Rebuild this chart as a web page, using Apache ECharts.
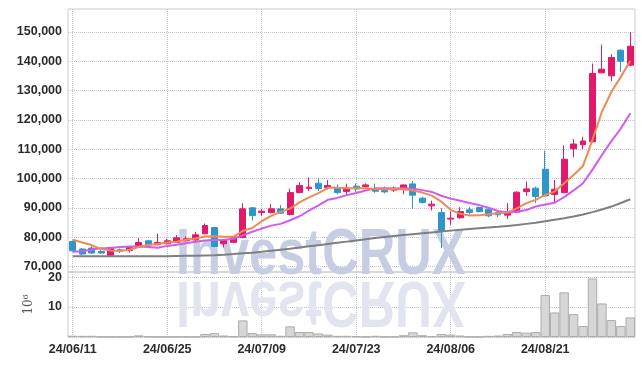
<!DOCTYPE html>
<html>
<head>
<meta charset="utf-8">
<script src="https://cdn.jsdelivr.net/npm/echarts@6/dist/echarts.min.js"></script>
<style>html,body{margin:0;padding:0;background:#fff}#c{width:642px;height:366px}</style>
</head>
<body>
<div id="c"></div>
<script>
var dates = ['24/06/11','24/06/12','24/06/13','24/06/14','24/06/17','24/06/18','24/06/19','24/06/20','24/06/21','24/06/24',
'24/06/25','24/06/26','24/06/27','24/06/28','24/07/01','24/07/02','24/07/03','24/07/04','24/07/05','24/07/08',
'24/07/09','24/07/10','24/07/11','24/07/12','24/07/15','24/07/16','24/07/17','24/07/18','24/07/19','24/07/22',
'24/07/23','24/07/24','24/07/25','24/07/26','24/07/29','24/07/30','24/07/31','24/08/01','24/08/02','24/08/05',
'24/08/06','24/08/07','24/08/08','24/08/09','24/08/12','24/08/13','24/08/14','24/08/16','24/08/19','24/08/20',
'24/08/21','24/08/22','24/08/23','24/08/26','24/08/27','24/08/28','24/08/29','24/08/30','24/09/02','24/09/03'];

var openP  = [78600,76020,76360,75200,73840,75780,75540,76700,78840,77480, 77820,78260,78840,79180,81220,83360,77820,78300,79960,90060,
              88460,88460,89720,87780,95260,96620,98460,96960,96960,95600, 97440,97300,96620,95940,96080,96420,98220,93360,90740,88460,
              86220,86660,89380,90160,89620,88460,87580,88600,95600,96760, 103220,94580,95260,110220,111580,112600,136080,135040,143780,138680];
var closeP = [75440,74320,74660,74660,76560,75340,76560,78260,77480,78260, 78840,79860,79520,80880,84040,76900,79180,80200,89720,87440,
              88940,89720,88260,95260,97640,97100,96620,97640,95260,96760, 96520,97880,95740,95500,96760,97880,94380,91860,91320,82340,
              86560,88800,88460,88800,87340,87680,88600,95400,96520,93900, 94140,96420,106620,111820,112840,135860,137320,141300,140040,145140];
var lowP   = [75200,73840,74400,74420,73800,74660,74860,76500,77300,77300, 77600,78100,78600,78400,81000,76700,76560,78100,79700,85740,
              87340,88200,88000,87500,95000,95800,95800,96300,94700,94140, 95500,97000,95200,95000,95500,94720,89620,91600,89200,76360,
              84280,86400,87680,88500,86900,86900,86220,88400,94200,91660, 93900,91860,95000,107300,110020,112300,135900,133240,136400,138400];
var highP  = [78900,76360,77720,76000,76700,76220,76900,79760,79000,81220, 79520,80780,80300,81900,84720,83600,79400,80400,91660,90400,
              89720,91320,91000,96620,98800,100500,100160,99580,98000,98320, 98400,98400,98300,97300,97300,98000,99140,93900,92500,89960,
              88800,90300,90300,90500,90300,89400,91660,95700,99000,97300, 109540,99580,111380,113520,114300,139260,145720,142420,144100,150000];

var ma5  = [79180,78260,77380,76020,75540,75340,75780,76700,77380,77720, 78260,78500,79180,79620,80300,80400,80200,80200,82240,83200,
            85500,87300,88700,89800,91900,93650,95100,96880,96880,96760, 96760,96760,96500,96420,96420,96420,95940,95260,94240,92200,
            89380,88020,87440,87500,87900,88200,88500,89900,91660,92780, 94480,95600,98460,101280,104340,113300,122800,129600,134700,140200];
var ma10 = [75100,75300,75900,76300,76400,76700,76900,76900,76700,76500, 77100,77500,78000,78500,78900,79100,79200,79500,80700,81900,
            83000,84000,84600,85850,87200,89100,90900,92800,93450,94400, 95150,96000,96700,96700,96650,96700,96550,96100,95500,94200,
            93200,92500,91700,91000,90100,89000,88450,88700,89350,90500, 91200,91800,93700,96000,98450,103100,108080,112800,117100,122300];
var ma60 = [73600,73600,73600,73600,73600,73600,73600,73600,73600,73600, 73600,73650,73700,73750,73850,73950,74100,74300,74550,74800,
            75100,75450,75800,76150,76550,76950,77350,77750,78150,78550, 78950,79350,79750,80100,80450,80800,81100,81400,81700,82000,
            82300,82600,82850,83100,83350,83600,83900,84200,84600,85000, 85500,86000,86500,87100,87800,88600,89500,90500,91700,93000];

var volume = [0.43,0.4,0.4,0.1,0.1,0.1,0.1,0.55,0.2,0.1, 0.1,0.1,0.1,0.1,1.0,1.3,0.5,0.2,5.55,1.3,
              0.9,0.9,0.4,3.55,1.65,1.65,1.2,0.8,0.4,0.4, 0.3,0.1,0.4,0.1,0.1,0.6,1.55,0.6,0.3,1.0,
              0.8,0.5,0.1,0.1,0.4,0.5,1.0,1.65,1.45,1.65, 14.0,8.2,14.9,7.65,3.65,19.55,11.2,5.65,3.65,6.55];

var priceTicks = [70000,80000,90000,100000,110000,120000,130000,140000,150000];
var volTicks = [0,10,20];
var volLabels = [10,20];

var ohlc = dates.map(function(d,i){ return [openP[i], closeP[i], lowP[i], highP[i]]; });

var FONT = '"Liberation Sans", Arial, sans-serif';
var UP = '#e2196b', DOWN = '#2f96cb';
var gridLine = {show:true, lineStyle:{color:'#bfc3dc', type:'dotted', width:1}};
var labelStyle = {fontFamily:FONT, fontSize:12.5, fontWeight:'bold', color:'#2b2b2b'};

var chart = echarts.init(document.getElementById('c'), null, {renderer:'canvas'});
chart.setOption({
  animation:false,
  backgroundColor:'#ffffff',
  grid:[
    {left:68, right:7, top:9, height:263, show:true, borderColor:'#cccccc', borderWidth:1},
    {left:68, right:7, top:272, height:65, show:true, borderColor:'#cccccc', borderWidth:1}
  ],
  graphic:[
    {type:'text', x:176, y:256, scaleX:0.79, z:1, silent:true,
     style:{text:'InvestCRUX', font:'bold 64px ' + FONT, fill:'#c7cee3', verticalAlign:'middle', align:'left'}},
    {type:'text', x:176, y:300, scaleX:0.79, scaleY:-1, z:1, silent:true,
     style:{text:'InvestCRUX', font:'bold 64px ' + FONT, fill:'#e2e5ef', verticalAlign:'middle', align:'left'}}
  ],
  xAxis:[
    {type:'category', gridIndex:0, data:dates, boundaryGap:true,
     axisLine:{show:false}, axisTick:{show:false}, axisLabel:{show:false},
     splitLine:{show:true, interval:9, alignWithLabel:true, lineStyle:{color:'#bfc3dc', type:'dotted'}}},
    {type:'category', gridIndex:1, data:dates, boundaryGap:true,
     axisLine:{show:false}, axisTick:{show:false},
     axisLabel:Object.assign({interval:9, margin:6}, labelStyle),
     splitLine:{show:true, interval:9, alignWithLabel:true, lineStyle:{color:'#bfc3dc', type:'dotted'}}}
  ],
  yAxis:[
    {type:'value', gridIndex:0, min:68200, max:157830,
     axisLine:{show:false}, axisTick:{show:false, customValues:priceTicks},
     axisLabel:Object.assign({customValues:priceTicks, margin:6,
       formatter:function(v){ return String(v).replace(/\B(?=(\d{3})+(?!\d))/g, ','); }}, labelStyle),
     splitLine:gridLine},
    {type:'value', gridIndex:1, min:0, max:21.7,
     name:'10\u2076', nameLocation:'middle', nameRotate:90, nameGap:33,
     nameTextStyle:{fontFamily:'DejaVu Serif', fontSize:12, color:'#555555'},
     axisLine:{show:false}, axisTick:{show:false, customValues:volTicks},
     axisLabel:Object.assign({customValues:volLabels, margin:6}, labelStyle),
     splitLine:gridLine}
  ],
  series:[
    {type:'bar', xAxisIndex:1, yAxisIndex:1, data:volume, barWidth:'100%', barCategoryGap:'0%',
     itemStyle:{color:'#d7d7d7', borderColor:'#adadad', borderWidth:1}, z:2},
    {type:'candlestick', xAxisIndex:0, yAxisIndex:0, data:ohlc, barWidth:'68%', z:3,
     itemStyle:{color:UP, color0:DOWN, borderColor:UP, borderColor0:DOWN, borderWidth:1}},
    {type:'line', xAxisIndex:0, yAxisIndex:0, data:ma60, symbol:'none', z:4,
     lineStyle:{color:'#7f7f7f', width:2}},
    {type:'line', xAxisIndex:0, yAxisIndex:0, data:ma10, symbol:'none', z:4,
     lineStyle:{color:'#cf5ded', width:2}},
    {type:'line', xAxisIndex:0, yAxisIndex:0, data:ma5, symbol:'none', z:5,
     lineStyle:{color:'#ef8a52', width:2}}
  ]
});
</script>
</body>
</html>
